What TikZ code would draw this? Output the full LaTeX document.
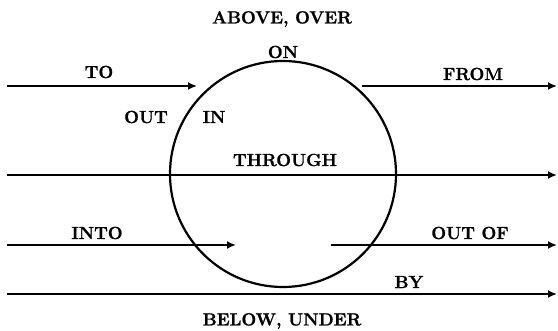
\documentclass[tikz,border=0pt]{standalone}
\usepackage{fontspec}
\newfontfamily\lblfont{Latin Modern Roman}[BoldFeatures={FakeBold=1.2}]
\usetikzlibrary{arrows.meta}
\begin{document}
\begin{tikzpicture}[x=1pt,y=-1pt,
  lbl/.style={font=\lblfont\fontsize{17.5}{20}\selectfont\bfseries, inner sep=0pt, anchor=center},
  path/.style={line width=2.4pt, -{Latex[length=9pt,width=8pt]}}]
\useasboundingbox (0,0) rectangle (558,331);
% the region
\node[circle, draw, line width=2.2pt, minimum size=226pt, inner sep=0pt] (ring) at (283,174) {};
% end points of the paths
\coordinate (toA) at (7,86);      \coordinate (toB) at (197,86);
\coordinate (frA) at (362,86);    \coordinate (frB) at (557,86);
\coordinate (thA) at (7,175);     \coordinate (thB) at (557,175);
\coordinate (inA) at (7,245);     \coordinate (inB) at (236,245);
\coordinate (ofA) at (331,245);   \coordinate (ofB) at (557,245);
\coordinate (byA) at (7,294);     \coordinate (byB) at (557,294);
\draw[path] (toA) -- (toB);
\draw[path] (frA) -- (frB);
\draw[path] (thA) -- (thB);
\draw[path] (inA) -- (inB);
\draw[path] (ofA) -- (ofB);
\draw[path] (byA) -- (byB);
% labels
\node[lbl] (above) at (282,19) {ABOVE, OVER};
\node[lbl] (on) at (283,52) {ON};
\node[lbl] (to) at (99,72) {TO};
\node[lbl] (from) at (473,74) {FROM};
\node[lbl] (out) at (146,117) {OUT};
\node[lbl] (in) at (214,117) {IN};
\node[lbl] (through) at (285,160) {THROUGH};
\node[lbl] (into) at (97,233) {INTO};
\node[lbl] (outof) at (470,233) {OUT OF};
\node[lbl] (by) at (409,282) {BY};
\node[lbl] (below) at (282,321) {BELOW, UNDER};
\end{tikzpicture}
\end{document}
